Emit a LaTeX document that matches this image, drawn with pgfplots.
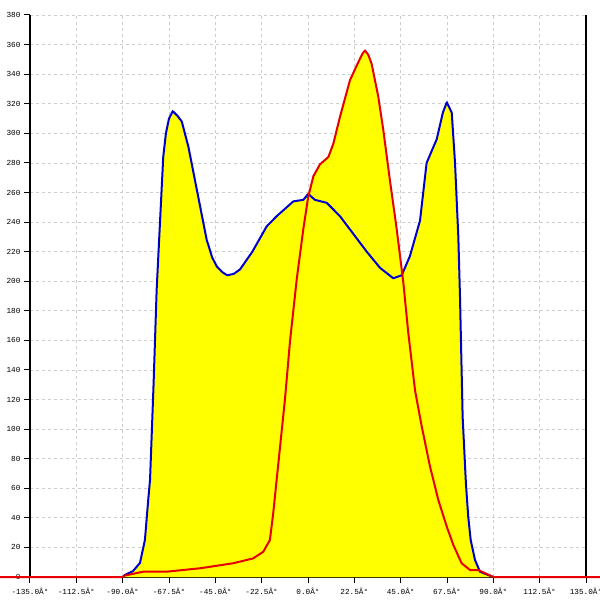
\documentclass[border=0pt]{standalone}
\usepackage{fontspec}
\setmainfont{Liberation Mono}
\usepackage{pgfplots}
\pgfplotsset{compat=1.18}
\definecolor{lblue}{RGB}{0,0,204}
\definecolor{lred}{RGB}{230,0,0}
\definecolor{lgrid}{RGB}{205,205,205}
\definecolor{lyellow}{RGB}{255,255,0}
\pgfplotstableread{
x y
-90 0
-88.9 1.4
-85 4
-81.6 9.5
-79.2 25
-77.6 52
-76.7 66
-75 130
-73.5 194
-71.9 239
-70.3 284
-69.0 300
-67.5 310
-65.7 315
-63.5 312
-61.3 308
-58.1 291
-54.0 262
-49.2 228
-46.5 216
-44.3 210
-41.5 206
-39.2 204
-36 205
-33.0 208
-27 220
-20.1 237
-15.2 244
-7.1 254
-2.3 255
0.1 259
3.4 255
9.1 253
15.5 244
22.0 232
28.5 220
35.0 209
41.4 202
45.5 204
49.5 217
54.4 241
57.6 280
62.5 296
65.5 314
67.4 321
69.8 314
71.4 280
73.0 230
73.8 190
75.1 108
76.7 63
77.8 41
79.0 25
81.1 11.5
83.5 3.6
90 0
}\blueseries
\pgfplotstableread{
x y
-150 0
-90 0
-88.9 1
-80 3.6
-68.6 3.6
-52.4 5.9
-36.3 9.3
-26.6 12.6
-21.7 17.1
-18.5 25
-16.9 43
-15.2 66
-11.2 120
-8.7 160
-5.5 201
-2.3 235
0.1 257
2.6 271
5.8 279
9.9 284
12.3 293
15.5 311
20.4 336
24.4 348
26.5 354
27.7 356
29.3 353
30.9 347
34.1 325
36.6 302
39.8 268
43.1 235
46.3 199
48.7 165
52.0 126
55.2 102
59.2 75
63.3 52
67.4 34
70.6 21.6
74.6 9.3
78.7 4.7
82.7 4.7
90 0
150 0
}\redseries
\begin{document}
\begin{tikzpicture}[x=1pt,y=1pt]
\useasboundingbox (0,0) rectangle (600,600);
\clip (0,0) rectangle (600,600);
\begin{axis}[
 at={(30pt,23pt)}, anchor=south west,
 scale only axis, width=556pt, height=562pt,
 xmin=-135, xmax=135, ymin=0, ymax=380,
 axis x line*=bottom, axis y line*=left,
 axis line style={-, line width=1.2pt, black},
 xtick={-135,-112.5,-90,-67.5,-45,-22.5,0,22.5,45,67.5,90,112.5,135},
 xticklabels={-135.0Â°,-112.5Â°,-90.0Â°,-67.5Â°,-45.0Â°,-22.5Â°,0.0Â°,22.5Â°,45.0Â°,67.5Â°,90.0Â°,112.5Â°,135.0Â°},
 ytick={0,20,...,380},
 tick align=outside, major tick length=6pt,
 tick style={black, line width=1pt},
 grid=major, grid style={lgrid, line width=0.7pt, dash pattern=on 3pt off 3pt},
 tick label style={font=\fontsize{7.7}{9}\selectfont},
 xticklabel style={yshift=-2pt},
 /pgf/number format/assume math mode=true,
 clip=false,
]
\draw[line width=1.2pt, black] (rel axis cs:1,0) -- (rel axis cs:1,1);
\addplot[fill=lyellow, draw=none] table[x=x,y=y] {\blueseries} \closedcycle;
\addplot[fill=lyellow, draw=none] table[x=x,y=y] {\redseries} \closedcycle;
\addplot[lblue, line width=2pt, line join=round] table[x=x,y=y] {\blueseries};
\addplot[lred, line width=2pt, line join=round] table[x=x,y=y] {\redseries};
\end{axis}
\end{tikzpicture}
\end{document}
